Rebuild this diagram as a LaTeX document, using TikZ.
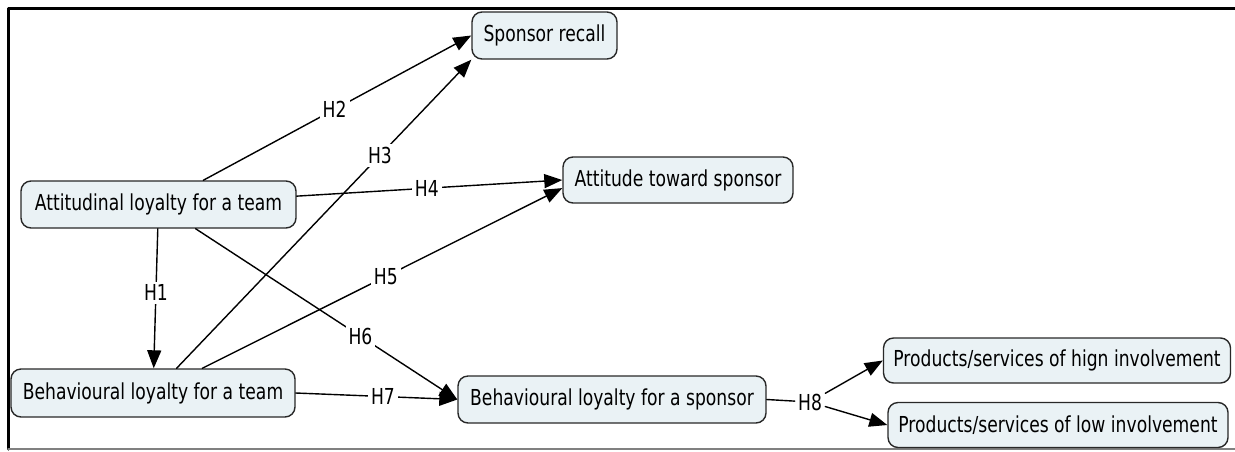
\documentclass[tikz,border=0pt]{standalone}
\usepackage{fontspec}
\setmainfont{DejaVu Sans}[FakeStretch=0.78]
\usepackage{tikz}
\usetikzlibrary{arrows.meta}
\definecolor{boxfill}{RGB}{234,242,245}
\definecolor{boxline}{RGB}{40,40,40}
\begin{document}
\begin{tikzpicture}[line cap=round,line join=round,>={Triangle[length=9pt,width=7pt]},x=0.5pt,y=-0.5pt,
  concept/.style={draw=boxline,fill=boxfill,line width=0.7pt,rounded corners=5pt,inner sep=0pt,font=\fontsize{11}{13}\selectfont},
  hyp/.style={fill=white,inner sep=1.5pt,font=\fontsize{11}{13}\selectfont},
  link/.style={line width=0.7pt,color=black}]
\useasboundingbox (0.,0.) rectangle (1235.,451.);
\draw[line width=1.5pt,color=black] (8.,449.) -- (8.,8.) -- (1235.,8.);
\draw[line width=0.6pt,color=gray] (8.,449.) -- (1235.,449.);
\node[concept,minimum width=72.5pt,minimum height=23.5pt] (sr) at (544.5,35.5) {Sponsor recall};
\node[concept,minimum width=137.5pt,minimum height=23.5pt] (alt) at (158.5,204.5) {Attitudinal loyalty for a team};
\node[concept,minimum width=115pt,minimum height=23pt] (ats) at (678.,180.) {Attitude toward sponsor};
\node[concept,minimum width=142pt,minimum height=24pt] (blt) at (153.,393.) {Behavioural loyalty for a team};
\node[concept,minimum width=154pt,minimum height=23.5pt] (bls) at (612.,399.5) {Behavioural loyalty for a sponsor};
\node[concept,minimum width=173.5pt,minimum height=22.5pt] (phi) at (1057.,360.5) {Products/services of hign involvement};
\node[concept,minimum width=170pt,minimum height=22.5pt] (plo) at (1058.,425.) {Products/services of low involvement};
\node[hyp] (h8) at (810.,402.) {H8};
\draw[link,->] (alt) -- node[hyp,pos=0.46] {H1} (blt);
\draw[link,->] (alt) -- node[hyp,pos=0.49] {H2} (sr.west);
\draw[link,->] (blt) -- node[hyp,pos=0.69] {H3} (sr.south west);
\draw[link,->] (alt) -- node[hyp,pos=0.49] {H4} (ats.west);
\draw[link,->] (blt) -- node[hyp,pos=0.51] {H5} (ats.184);
\draw[link,->] (alt) -- node[hyp,pos=0.63] {H6} (bls.west);
\draw[link,->] (blt.east) -- node[hyp,pos=0.54] {H7} (bls.west);
\draw[link] (bls.east) -- (h8);
\draw[link,->] (h8) -- (phi.west);
\draw[link,->] (h8) -- (plo.west);
\end{tikzpicture}
\end{document}
